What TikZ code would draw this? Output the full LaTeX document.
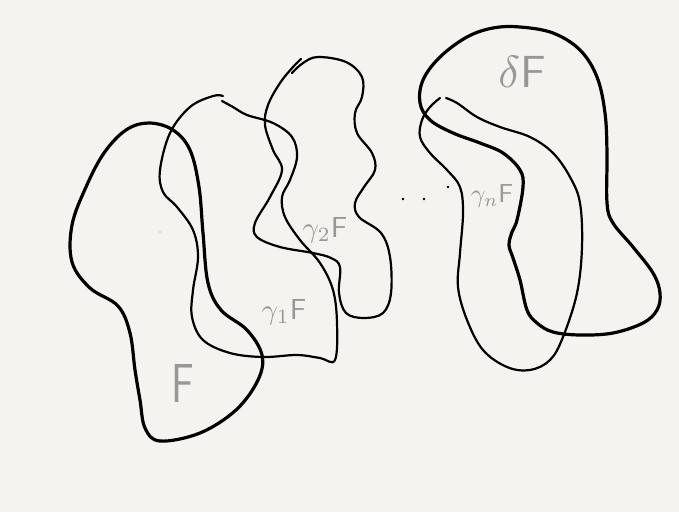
\documentclass[tikz,border=0pt]{standalone}
\usepackage{amsmath}
\usepackage{tikz}
\usetikzlibrary{positioning}
\definecolor{paper}{HTML}{F4F3EF}
\definecolor{pencil}{HTML}{979795}
\tikzset{blobthick/.style={draw=black, line width=3.2pt, line join=round, line cap=round}}
\tikzset{blobthin/.style={draw=black, line width=2.2pt, line join=round, line cap=round}}
\tikzset{lbl/.style={text=pencil, inner sep=0pt}}

\begin{document}
\begin{tikzpicture}[x=1pt, y=-1pt]
        \fill[paper] (0,0) rectangle (679,512);
        \useasboundingbox (0,0) rectangle (679,512);
        % F
        \draw[blobthick] plot[smooth cycle, tension=0.6] coordinates {(149,123) (173,130) (190,150) (199,187) (203,233) (208,283) (221,310) (247,330) (262,355) (258,380) (236,410) (200,433) (160,441) (145,428) (140,400) (135,370) (130,333) (118,306) (90,288) (72,262) (72,225) (86,187) (104,153) (126,130)};
        % gamma_1 F
        \draw[blobthin] plot[smooth, tension=0.6] coordinates {(223,96) (213,96) (190,107) (170,133) (160,170) (163,192) (177,207) (193,230) (198,257) (193,290) (192,317) (203,340) (230,353) (263,357) (297,355) (320,358) (335,360) (337,323) (333,290) (320,263) (300,240) (285,217) (282,197) (290,180) (297,157) (292,137) (273,123) (247,115) (233,107) (222,101)};
        % gamma_2 F
        \draw[blobthin] plot[smooth, tension=0.6] coordinates {(292,73) (303,63) (318,57) (346,62) (362,77) (362,97) (355,113) (357,133) (372,153) (375,170) (364,187) (355,203) (359,217) (381,233) (390,257) (391,293) (383,313) (364,318) (346,313) (339,293) (340,267) (331,258) (313,253) (280,247) (257,237) (255,223) (270,197) (282,170) (273,150) (265,125) (268,105) (280,83) (293,67) (301,59)};
        % gamma_n F
        \draw[blobthin] plot[smooth, tension=0.6] coordinates {(446,98) (457,103) (477,117) (500,127) (530,137) (553,153) (570,177) (580,203) (582,247) (577,293) (563,337) (550,360) (530,370) (507,367) (483,350) (467,320) (458,287) (460,253) (463,213) (460,187) (447,170) (430,153) (420,137) (422,120) (430,107) (440,98)};
        % delta F
        \draw[blobthick] plot[smooth cycle, tension=0.6] coordinates {(520,27) (553,33) (580,50) (597,77) (605,113) (607,153) (607,203) (613,223) (633,247) (653,273) (660,293) (657,310) (643,323) (613,333) (580,335) (553,332) (537,323) (527,310) (520,280) (513,258) (509,245) (512,232) (517,220) (523,187) (520,170) (503,153) (480,143) (453,133) (430,120) (420,103) (423,80) (440,57) (467,37) (493,28)};
        % dots
        \fill (403,199) circle (1.4pt);
        \fill (424,199) circle (1.4pt);
        \fill (448,187) circle (1.4pt);
        \fill[pencil!60] (160,232) circle (0.9pt);
        % labels
        \node[lbl, font=\sffamily, xscale=4, yscale=5.5] (lblF) at (183,383) {F};
        \node[lbl, scale=2.9] (lblGa) at (284,312) {$\gamma_1\mathsf{F}$};
        \node[lbl, scale=2.9] (lblGb) at (325,230) {$\gamma_2\mathsf{F}$};
        \node[lbl, scale=2.6] (lblGn) at (492,196) {$\gamma_n\mathsf{F}$};
        \node[lbl, scale=4.5] (lblD) at (522,72) {$\delta\mathsf{F}$};
\end{tikzpicture}
\end{document}
